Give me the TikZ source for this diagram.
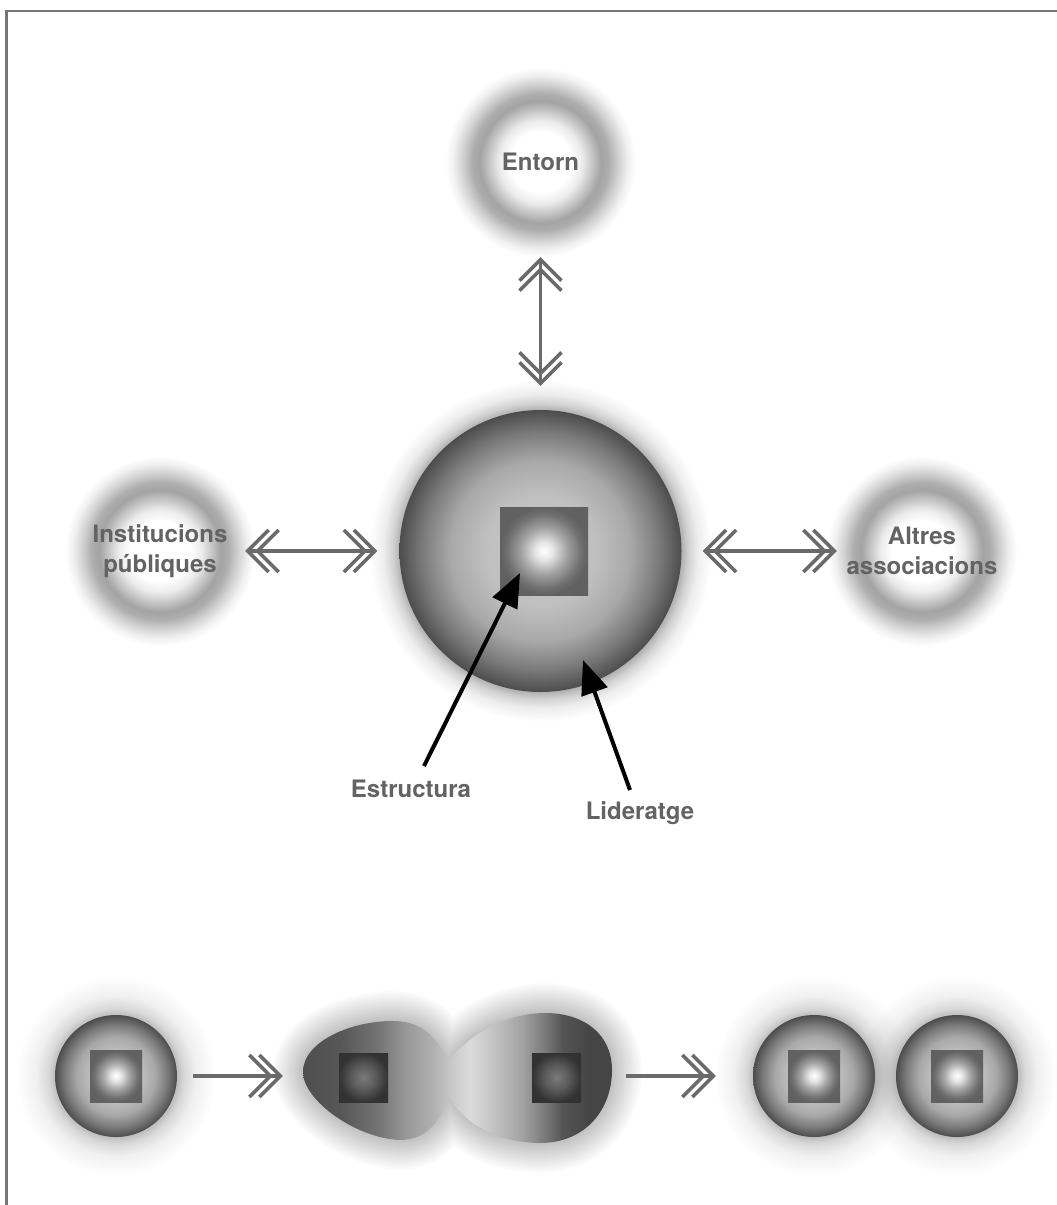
\documentclass[tikz,border=0pt]{standalone}
\usepackage{fontspec}
\setmainfont{TeX Gyre Heros}
\usetikzlibrary{arrows.meta}

\definecolor{txtgray}{HTML}{636363}
\definecolor{arrgray}{HTML}{6A6A6A}
\definecolor{framegray}{HTML}{767676}

\pgfdeclareradialshading{ring}{\pgfpoint{0bp}{0bp}}{%
 color(0bp)=(white); color(8bp)=(white); color(11bp)=(black!8); color(13.5bp)=(black!22);
 color(16bp)=(black!36); color(18bp)=(black!32); color(20.5bp)=(black!18);
 color(23bp)=(black!6); color(25bp)=(white); color(50bp)=(white)}
\pgfdeclareradialshading{sphere}{\pgfpoint{0bp}{0bp}}{%
 color(0bp)=(black!22); color(10bp)=(black!25); color(16bp)=(black!34);
 color(21bp)=(black!52); color(25bp)=(black!70); color(50bp)=(black!70)}
\pgfdeclareradialshading{sqshade}{\pgfpoint{0bp}{0bp}}{%
 color(0bp)=(white); color(5bp)=(black!10); color(13bp)=(black!36);
 color(21bp)=(black!56); color(25bp)=(black!62); color(50bp)=(black!63)}
\pgfdeclareradialshading{dsq}{\pgfpoint{0bp}{0bp}}{%
 color(0bp)=(black!52); color(12bp)=(black!64); color(25bp)=(black!80); color(50bp)=(black!82)}
\pgfdeclareradialshading{haloB}{\pgfpoint{0bp}{0bp}}{%
 color(0bp)=(black!32); color(20.5bp)=(black!32); color(21.6bp)=(black!18);
 color(23bp)=(black!7); color(25bp)=(white); color(50bp)=(white)}
\pgfdeclareradialshading{haloS}{\pgfpoint{0bp}{0bp}}{%
 color(0bp)=(black!26); color(15.2bp)=(black!26); color(17bp)=(black!15);
 color(20bp)=(black!6); color(25bp)=(white); color(50bp)=(white)}
\pgfdeclarehorizontalshading{peanutshade}{100bp}{%
 color(0bp)=(black!69); color(25bp)=(black!69); color(31bp)=(black!66);
 color(37bp)=(black!55); color(41.8bp)=(black!40); color(46bp)=(black!31);
 color(48.8bp)=(black!22); color(52bp)=(black!14); color(56.4bp)=(black!25);
 color(60.6bp)=(black!37); color(64.5bp)=(black!54); color(67bp)=(black!67);
 color(71.4bp)=(black!73); color(75bp)=(black!73); color(100bp)=(black!73)}

\pgfdeclarearrow{
  name = DChev,
  parameters = {\the\pgfarrowlength,\the\pgfarrowwidth,\the\pgfarrowinset},
  setup code = {
    \pgfarrowssettipend{1.5pt}
    \pgfarrowssetlineend{-2pt}
    \pgfarrowssetvisualbackend{-\pgfarrowlength}
    \pgfarrowssetbackend{-\pgfarrowlength}
    \pgfarrowssavethe\pgfarrowlength
    \pgfarrowssavethe\pgfarrowwidth
    \pgfarrowssavethe\pgfarrowinset
  },
  drawing code = {
    \pgfsetdash{}{0pt}
    \pgfsetbuttcap
    \pgfsetmiterjoin
    \pgfpathmoveto{\pgfpoint{-\pgfarrowlength}{.5\pgfarrowwidth}}
    \pgfpathlineto{\pgfpoint{0pt}{0pt}}
    \pgfpathlineto{\pgfpoint{-\pgfarrowlength}{-.5\pgfarrowwidth}}
    \pgfpathmoveto{\pgfpoint{-\pgfarrowlength-\pgfarrowinset}{.5\pgfarrowwidth}}
    \pgfpathlineto{\pgfpoint{-\pgfarrowinset}{0pt}}
    \pgfpathlineto{\pgfpoint{-\pgfarrowlength-\pgfarrowinset}{-.5\pgfarrowwidth}}
    \pgfusepathqstroke
  },
  defaults = {length=21pt, width=42pt, inset=10pt}
}

\def\peanutpath{(448,1061) .. controls (438,1040) and (425,1022) .. (395,1021)
 .. controls (355,1020) and (303,1040) .. (303,1072)
 .. controls (303,1100) and (355,1138) .. (400,1140)
 .. controls (428,1140) and (440,1120) .. (449,1097)
 .. controls (465,1125) and (500,1143) .. (540,1143)
 .. controls (585,1143) and (612,1110) .. (612,1070)
 .. controls (612,1035) and (585,1013) .. (545,1013)
 .. controls (505,1013) and (470,1035) .. (448,1061) -- cycle}

\tikzset{
 lbl/.style={font=\bfseries\fontsize{24}{30}\selectfont, text=txtgray, align=center},
 ringnode/.style={circle, minimum size=190pt, inner sep=0pt, shade, shading=ring, lbl},
 spherenode/.style={circle, inner sep=0pt, shade, shading=sphere},
 sqnode/.style={rectangle, inner sep=0pt, shade, shading=sqshade},
 dsqnode/.style={rectangle, inner sep=0pt, shade, shading=dsq},
 dbl/.style={draw=arrgray, line width=3.5pt, DChev-DChev},
 sgl/.style={draw=arrgray, line width=3.5pt, -DChev},
 blk/.style={draw=black, line width=4pt, -{Triangle[length=34pt,width=27pt]}},
 halo/.style={blend mode=multiply},
}

\begin{document}
\begin{tikzpicture}[x=1pt,y=-1pt]
\useasboundingbox (0,0) rectangle (1057,1205);
\fill[white] (0,0) rectangle (1057,1205);
\draw[framegray, line width=2.2pt] (1057,11) -- (6.5,11) -- (6.5,1205);

% halo rings
\node[ringnode] (entorn) at (540.5,162) {Entorn};
\node[ringnode] (inst) at (160,551) {Institucions\\públiques};
\node[ringnode] (altres) at (922,551) {Altres\\associacions};

% central sphere
\shade[halo, shading=haloB] (540.5,551) circle[radius=171pt];
\node[spherenode, minimum size=282pt] (core) at (540.5,551) {};
\node[sqnode, minimum size=88pt] (estruct) at (544,551) {};

% double arrows
\draw[dbl, shorten <=1pt, shorten >=25pt] (entorn) -- (core);
\draw[dbl, shorten <=-9pt, shorten >=23pt] (inst) -- (core);
\draw[dbl, shorten <=22pt, shorten >=-9pt] (core) -- (altres);

% labels and black arrows
\node[lbl, anchor=base] (estr) at (411,797) {Estructura};
\node[lbl, anchor=base] (lid) at (640,819) {Lideratge};
\coordinate (tipS) at (520,573);
\coordinate (tipL) at (583,660);
\draw[blk] ([shift={(13,-31)}]estr.base) -- (tipS);
\draw[blk] ([shift={(-10,-29)}]lid.base) -- (tipL);

% bottom row: halos
\shade[halo, shading=haloS] (116,1076) circle[radius=100pt];
\shade[halo, shading=haloS] (814,1076) circle[radius=100pt];
\shade[halo, shading=haloS] (957,1076) circle[radius=100pt];
\foreach \w in {60,56,...,4}
  \draw[line width=\w pt, draw=black, opacity=0.014, line join=round] \peanutpath;

% bottom row: cells
\node[spherenode, minimum size=122pt] (c1) at (116,1076) {};
\node[sqnode, minimum size=52pt] (s1) at (116,1076) {};
\shade[shading=peanutshade] \peanutpath;
\node[minimum width=309pt, minimum height=128pt, inner sep=0pt] (split) at (457.5,1076) {};
\node[dsqnode, minimum size=49pt] (s2a) at (363.5,1077.5) {};
\node[dsqnode, minimum size=49pt] (s2b) at (556.5,1077.5) {};
\node[spherenode, minimum size=122pt] (c3) at (814,1076) {};
\node[sqnode, minimum size=52pt] (s3) at (814,1076) {};
\node[spherenode, minimum size=122pt] (c4) at (957,1076) {};
\node[sqnode, minimum size=52pt] (s4) at (957,1076) {};

\draw[sgl, shorten <=16pt, shorten >=21pt] (c1) -- (split);
\draw[sgl, shorten <=14pt, shorten >=38pt] (split) -- (c3);
\end{tikzpicture}
\end{document}
